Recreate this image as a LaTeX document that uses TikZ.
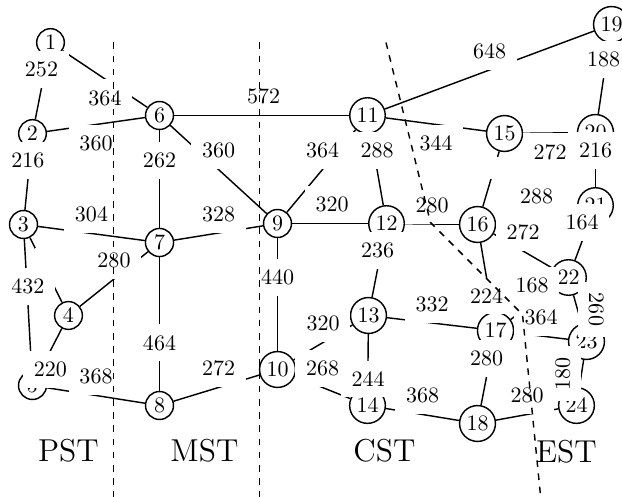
\documentclass[tikz,border=0pt]{standalone}
\usetikzlibrary{calc}
\begin{document}
\begin{tikzpicture}[x=0.4545pt,y=-0.4545pt,
  vertex/.style={draw,circle,inner sep=1.5pt,line width=0.65pt},
  edge/.style={line width=0.65pt},
  wlabel/.style={fill=white,inner sep=4.9pt},
  border/.style={dashed,line width=0.65pt},
  region/.style={font=\Large}]
\useasboundingbox (-0.5,-0.5) rectangle (621.5,496.5);

% stations
\node[vertex] (n1)  at (50,42)   {1};
\node[vertex] (n2)  at (32,133)  {2};
\node[vertex] (n3)  at (23,224)  {3};
\node[vertex] (n4)  at (68,315)  {4};
\node[vertex] (n5)  at (32,385)  {5};
\node[vertex] (n6)  at (159,115) {6};
\node[vertex] (n7)  at (159,242) {7};
\node[vertex] (n8)  at (159,405) {8};
\node[vertex] (n9)  at (277,223) {9};
\node[vertex] (n10) at (277,369) {10};
\node[vertex] (n11) at (367,115) {11};
\node[vertex] (n12) at (386,223) {12};
\node[vertex] (n13) at (368,315) {13};
\node[vertex] (n14) at (367,405) {14};
\node[vertex] (n15) at (504,133) {15};
\node[vertex] (n16) at (477,224) {16};
\node[vertex] (n17) at (495,330) {17};
\node[vertex] (n18) at (477,423) {18};
\node[vertex] (n19) at (611,24)  {19};
\node[vertex] (n20) at (595,132) {20};
\node[vertex] (n21) at (595,205) {21};
\node[vertex] (n22) at (568,277) {22};
\node[vertex] (n23) at (586,341) {23};
\node[vertex] (n24) at (576,405) {24};

% links
\foreach \a/\b in {n1/n2,n1/n6,n2/n6,n2/n3,n3/n7,n3/n4,n3/n5,n4/n7,n4/n5,
  n5/n8,n6/n7,n6/n11,n6/n9,n7/n9,n7/n8,n8/n10,n9/n11,n9/n12,n9/n10,
  n11/n12,n11/n19,n11/n15,n12/n13,n12/n16,n13/n10,n13/n17,n13/n14,
  n10/n14,n14/n18,n15/n20,n15/n16,n16/n17,n16/n22,n16/n21,n20/n21,
  n19/n20,n21/n22,n22/n23,n23/n24,n17/n22,n17/n23,n17/n18,n18/n24}
  \draw[edge] (\a) -- (\b);

% link weights
\path (n1.center) -- node[wlabel,above] {252} (n2.center);
\path (n1.center) -- node[wlabel,below] {364} (n6.center);
\path (n2.center) -- node[wlabel,below] {360} (n6.center);
\path (n2.center) -- node[wlabel,above] {216} (n3.center);
\path (n3.center) -- node[wlabel,above] {304} (n7.center);
\path (n3.center) -- node[wlabel,above] {} (n4.center);
\path (n3.center) -- node[wlabel,above] {432} (n5.center);
\path (n4.center) -- node[wlabel,above] {280} (n7.center);
\path (n4.center) -- node[wlabel,below] {220} (n5.center);
\path (n5.center) -- node[wlabel,above] {368} (n8.center);
\path (n6.center) -- node[wlabel,above] {262} (n7.center);
\path (n6.center) -- node[wlabel,above] {572} (n11.center);
\path (n6.center) -- node[wlabel,above] {360} (n9.center);
\path (n7.center) -- node[wlabel,above] {328} (n9.center);
\path (n7.center) -- node[wlabel,below] {464} (n8.center);
\path (n8.center) -- node[wlabel,above] {272} (n10.center);
\path (n9.center) -- node[wlabel,above] {364} (n11.center);
\path (n9.center) -- node[wlabel,above] {320} (n12.center);
\path (n9.center) -- node[wlabel,above] {440} (n10.center);
\path (n11.center) -- node[wlabel,above] {288} (n12.center);
\path (n11.center) -- node[wlabel,above] {648} (n19.center);
\path (n11.center) -- node[wlabel,below] {344} (n15.center);
\path (n12.center) -- node[wlabel,above] {236} (n13.center);
\path (n12.center) -- node[wlabel,above] {280} (n16.center);
\path (n13.center) -- node[wlabel,above] {320} (n10.center);
\path (n13.center) -- node[wlabel,above] {332} (n17.center);
\path (n13.center) -- node[wlabel,below] {244} (n14.center);
\path (n10.center) -- node[wlabel,above] {268} (n14.center);
\path (n14.center) -- node[wlabel,above] {368} (n18.center);
\path (n15.center) -- node[wlabel,below] {272} (n20.center);
\path (n15.center) -- node[wlabel,above] {} (n16.center);
\path (n16.center) -- node[wlabel,below] {224} (n17.center);
\path (n16.center) -- node[wlabel,above] {272} (n22.center);
\path (n16.center) -- node[wlabel,above] {288} (n21.center);
\path (n20.center) -- node[wlabel,above] {216} (n21.center);
\path (n19.center) -- node[wlabel,above] {188} (n20.center);
\path (n21.center) -- node[wlabel,above] {164} (n22.center);
\path (n22.center) -- node[wlabel,rotate=-90,anchor=south] {260} (n23.center);
\path (n23.center) -- node[wlabel,rotate=90,anchor=south] {180} (n24.center);
\path (n17.center) -- node[wlabel,above] {168} (n22.center);
\path (n17.center) -- node[wlabel,above] {364} (n23.center);
\path (n17.center) -- node[wlabel,above] {280} (n18.center);
\path (n18.center) -- node[wlabel,above] {280} (n24.center);

% zone names
\node[region] (zp) at (68,450)  {PST};
\node[region] (zm) at (204,450) {MST};
\node[region] (zc) at (384,450) {CST};
\node[region] (ze) at (566,451) {EST};

% zone borders
\draw[border] (113,42) -- (113,500);
\draw[border] (259,42) -- (259,500);
\draw[border] (385.5,42) -- (430,222) -- (522,314) -- (540.5,500);
\end{tikzpicture}
\end{document}
